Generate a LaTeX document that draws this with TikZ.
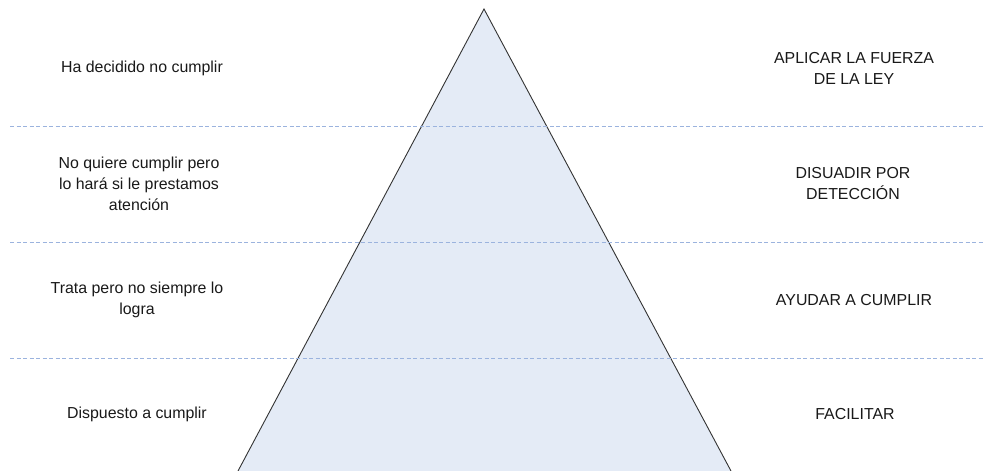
\documentclass[tikz,border=0pt]{standalone}
\usepackage{fontspec}
\setmainfont{Liberation Sans}
\usepackage{xcolor}
\usepackage{tikz}
\usetikzlibrary{positioning, calc}

\definecolor{pyrfill}{HTML}{E4EBF6}
\definecolor{sepline}{HTML}{9BB3DE}

\tikzset{
    lbl/.style={align=center, font=\fontsize{15.9}{21}\selectfont, text=black!90},
    sep/.style={sepline, line width=0.8pt, dash pattern=on 4pt off 2.5pt}
}

\begin{document}
\begin{tikzpicture}[x=1pt, y=-1pt]
    \useasboundingbox (0,0) rectangle (983,471);

    % Pyramid corners
    \coordinate (apex) at (484,9);
    \coordinate (bl) at (238,471);
    \coordinate (br) at (731,471);

    % Pyramid
    \fill[pyrfill] (bl) -- (apex) -- (br) -- cycle;
    \draw[black!80, line width=0.9pt] (bl) -- (apex) -- (br);

    % Band separators
    \foreach \y/\n in {126/a, 242/b, 358/c} {
        \coordinate (sl\n) at (10,\y);
        \coordinate (sr\n) at (983,\y);
        \draw[sep] (sl\n) -- (sr\n);
    }

    % Left column
    \node[lbl] (l1) at (142,68) {Ha decidido no cumplir};
    \node[lbl] (l2) at (139,184) {No quiere cumplir pero\\lo hará si le prestamos\\atención};
    \node[lbl] (l3) at (137,300) {Trata pero no siempre lo\\logra};
    \node[lbl] (l4) at (137,414) {Dispuesto a cumplir};

    % Right column
    \node[lbl] (r1) at (854,68) {APLICAR LA FUERZA\\DE LA LEY};
    \node[lbl] (r2) at (853,184) {DISUADIR POR\\DETECCIÓN};
    \node[lbl] (r3) at (854,300) {AYUDAR A CUMPLIR};
    \node[lbl] (r4) at (855,414) {FACILITAR};
\end{tikzpicture}
\end{document}
